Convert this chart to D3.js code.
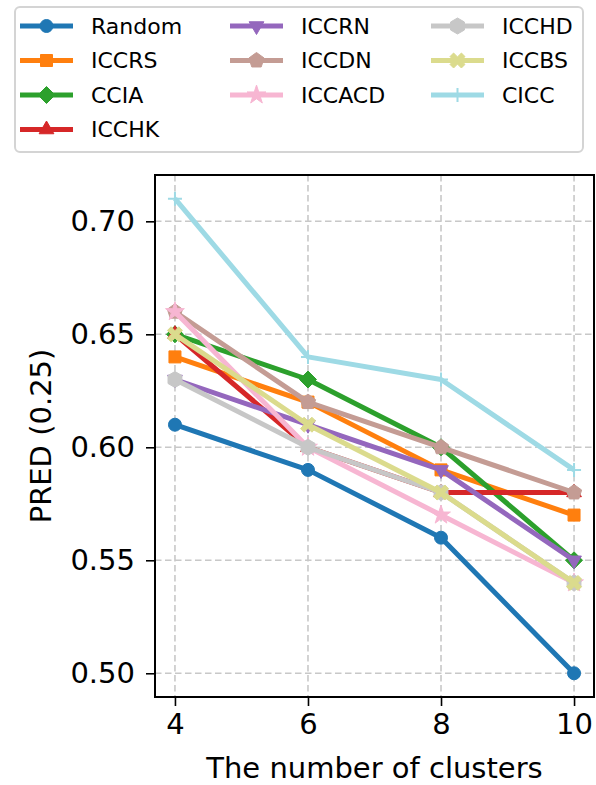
<!DOCTYPE html>
<html>
<head>
<meta charset="utf-8">
<script src="https://cdn.jsdelivr.net/npm/d3@7"></script>
<style>
  html, body { margin: 0; padding: 0; background: #fff; }
  svg { display: block; font-family: "DejaVu Sans", sans-serif; }
</style>
</head>
<body>
<div id="chart"></div>
<script>
// data
var clusters = [4, 6, 8, 10];
var seriesNames = ['Random', 'ICCRS', 'CCIA', 'ICCHK', 'ICCRN', 'ICCDN', 'ICCACD', 'ICCHD', 'ICCBS', 'CICC'];
var random = [0.61, 0.59, 0.56, 0.50];
var iccrs  = [0.64, 0.62, 0.59, 0.57];
var ccia   = [0.65, 0.63, 0.60, 0.55];
var icchk  = [0.65, 0.60, 0.58, 0.58];
var iccrn  = [0.63, 0.61, 0.59, 0.55];
var iccdn  = [0.66, 0.62, 0.60, 0.58];
var iccacd = [0.66, 0.60, 0.57, 0.54];
var icchd  = [0.63, 0.60, 0.58, 0.54];
var iccbs  = [0.65, 0.61, 0.58, 0.54];
var cicc   = [0.71, 0.64, 0.63, 0.59];
var yTicks = [0.50, 0.55, 0.60, 0.65, 0.70];
var xTicks = [4, 6, 8, 10];

var seriesValues = [random, iccrs, ccia, icchk, iccrn, iccdn, iccacd, icchd, iccbs, cicc];
var COLORS = ['#1f77b4', '#ff7f0e', '#2ca02c', '#d62728', '#9467bd', '#c49c94', '#f7b6d2', '#c7c7c7', '#dbdb8d', '#9edae5'];
var MARKERS = ['circle', 'square', 'diamond', 'triUp', 'triDown', 'pentagon', 'star', 'hexagon', 'xfill', 'plus'];

var W = 596, H = 785;
var plot = { left: 155, right: 594, top: 175, bottom: 697 };

var svg = d3.select('#chart').append('svg').attr('width', W).attr('height', H);

// matplotlib-like 5% margins
var x = d3.scaleLinear().domain([3.7, 10.3]).range([plot.left, plot.right]);
var y = d3.scaleLinear().domain([0.4895, 0.7205]).range([plot.bottom, plot.top]);

function poly(n, r, rot) {
    var pts = [];
    for (var i = 0; i < n; i++) {
        var a = rot + i * 2 * Math.PI / n;
        pts.push([r * Math.cos(a), r * Math.sin(a)]);
    }
    return 'M' + pts.map(function(p) { return p[0].toFixed(2) + ',' + p[1].toFixed(2); }).join('L') + 'Z';
}

function markerPath(type) {
    switch (type) {
        case 'circle': return d3.symbol(d3.symbolCircle, Math.PI * 6.5 * 6.5)();
        case 'square': return 'M-6,-6L6,-6L6,6L-6,6Z';
        case 'diamond': return 'M0,-8.5L8.5,0L0,8.5L-8.5,0Z';
        case 'triUp': return poly(3, 8.5, -Math.PI / 2);
        case 'triDown': return poly(3, 8.5, Math.PI / 2);
        case 'pentagon': return poly(5, 8, -Math.PI / 2);
        case 'hexagon': return poly(6, 8, -Math.PI / 2);
        case 'star': return d3.symbol(d3.symbolStar, 110)();
        case 'xfill':
            var s = 7.5, t = 3.6;
            return 'M' + [[-s + t, -s], [0, -t], [s - t, -s], [s, -s + t], [t, 0], [s, s - t], [s - t, s], [0, t], [-s + t, s], [-s, s - t], [-t, 0], [-s, -s + t]]
                .map(function(p) { return p.join(','); }).join('L') + 'Z';
        case 'plus': return 'M-7,0L7,0M0,-7L0,7';
    }
}

// grid
var grid = svg.append('g');
grid.selectAll('line.gx').data(xTicks).enter().append('line')
    .attr('x1', function(d) { return x(d); }).attr('x2', function(d) { return x(d); })
    .attr('y1', plot.top).attr('y2', plot.bottom);
grid.selectAll('line.gy').data(yTicks).enter().append('line')
    .attr('y1', function(d) { return y(d); }).attr('y2', function(d) { return y(d); })
    .attr('x1', plot.left).attr('x2', plot.right);
grid.selectAll('line')
    .attr('stroke', '#c8c8c8').attr('stroke-width', 1.6).attr('stroke-dasharray', '6.5,3.5');

// series
var line = d3.line()
    .x(function(d, i) { return x(clusters[i]); })
    .y(function(d) { return y(d); });

seriesValues.forEach(function(vals, k) {
    var g = svg.append('g');
    g.append('path').datum(vals)
        .attr('d', line)
        .attr('fill', 'none')
        .attr('stroke', COLORS[k])
        .attr('stroke-width', 5)
        .attr('stroke-linejoin', 'round');
    g.selectAll('path.m').data(vals).enter().append('path')
        .attr('class', 'm')
        .attr('transform', function(d, i) { return 'translate(' + x(clusters[i]) + ',' + y(d) + ')'; })
        .attr('d', markerPath(MARKERS[k]))
        .attr('fill', MARKERS[k] === 'plus' ? 'none' : COLORS[k])
        .attr('stroke', COLORS[k])
        .attr('stroke-width', MARKERS[k] === 'plus' ? 2 : 1);
});

// axes frame
svg.append('rect')
    .attr('x', plot.left).attr('y', plot.top)
    .attr('width', plot.right - plot.left).attr('height', plot.bottom - plot.top)
    .attr('fill', 'none').attr('stroke', '#000').attr('stroke-width', 2);

var xAxis = d3.axisBottom(x).tickValues(xTicks).tickSize(9).tickPadding(7).tickFormat(d3.format('d'));
var gx = svg.append('g').attr('transform', 'translate(0,' + plot.bottom + ')').call(xAxis);
var yAxis = d3.axisLeft(y).tickValues(yTicks).tickSize(9).tickPadding(11).tickFormat(d3.format('.2f'));
var gy = svg.append('g').attr('transform', 'translate(' + plot.left + ',0)').call(yAxis);
[gx, gy].forEach(function(g) {
    g.select('.domain').remove();
    g.selectAll('.tick line').attr('stroke', '#000').attr('stroke-width', 1.6);
    g.selectAll('.tick text').attr('fill', '#000').style('font-size', '29px').style('font-family', '"DejaVu Sans", sans-serif');
});

// axis labels
svg.append('text')
    .attr('x', (plot.left + plot.right) / 2).attr('y', 778)
    .attr('text-anchor', 'middle').style('font-size', '29px')
    .text('The number of clusters');
svg.append('text')
    .attr('transform', 'translate(51,' + ((plot.top + plot.bottom) / 2) + ') rotate(-90)')
    .attr('text-anchor', 'middle').style('font-size', '29px')
    .text('PRED (0.25)');

// legend
var legend = svg.append('g');
legend.append('rect')
    .attr('x', 15).attr('y', 7).attr('width', 568).attr('height', 145)
    .attr('rx', 5).attr('fill', '#fff').attr('stroke', '#d4d4d4').attr('stroke-width', 2);
var colX = [20, 230, 431];
var rowY = [26, 60.5, 95, 129.5];
seriesNames.forEach(function(name, k) {
    var col = k < 4 ? 0 : (k < 7 ? 1 : 2);
    var row = k < 4 ? k : (k < 7 ? k - 4 : k - 7);
    var gx0 = colX[col], gy0 = rowY[row];
    var item = legend.append('g').attr('transform', 'translate(' + gx0 + ',' + gy0 + ')');
    item.append('line').attr('x1', 0).attr('x2', 53).attr('y1', 0).attr('y2', 0)
        .attr('stroke', COLORS[k]).attr('stroke-width', 5);
    item.append('path').attr('transform', 'translate(26.5,0)')
        .attr('d', markerPath(MARKERS[k]))
        .attr('fill', MARKERS[k] === 'plus' ? 'none' : COLORS[k])
        .attr('stroke', COLORS[k])
        .attr('stroke-width', MARKERS[k] === 'plus' ? 2 : 1);
    item.append('text').attr('x', 71).attr('y', 0).attr('dy', '0.36em')
        .style('font-size', '22px').text(name);
});
</script>
</body>
</html>
